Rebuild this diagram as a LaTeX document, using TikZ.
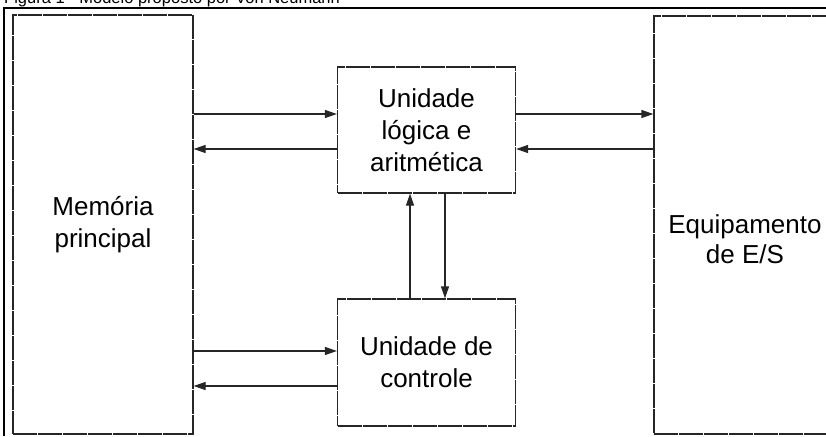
\documentclass[tikz,border=0pt]{standalone}
\usepackage{fontspec}
\setmainfont{Liberation Sans}
\usetikzlibrary{arrows.meta}

\begin{document}
\begin{tikzpicture}[x=1pt, y=-1pt,
    unit/.style = {draw=black!85, line width=1.3pt, dash pattern=on 24pt off 1pt, align=center, inner sep=0pt,
                   font=\fontsize{26}{32}\selectfont},
    arr/.style = {-{Triangle[length=12pt,width=8pt]}, line width=1.3pt, draw=black!85}]
    \useasboundingbox (0,0) rectangle (826,436);
    \clip (0,0) rectangle (826,436);
    \node[anchor=base west, inner sep=0pt, font=\fontsize{16.5}{20}\selectfont] (cap) at (4,3.5) {Figura 1 - Modelo proposto por Von Neumann};
    \draw[line width=2.5pt] (4,436) -- (4,8) -- (826,8);
    \node[unit, minimum width=180pt, minimum height=419pt] (mem) at (103,224.5) {Memória\\principal};
    \node[unit, minimum width=178pt, minimum height=126pt] (alu) at (426.5,130) {Unidade\\lógica e\\aritmética};
    \node[unit, minimum width=178pt, minimum height=127pt] (ctl) at (426.5,362.5) {Unidade de\\controle};
    \node[unit, minimum width=182pt, minimum height=418pt] (es) at (745,225) {};
    \node[align=center, inner sep=0pt, font=\fontsize{26}{30}\selectfont] (estxt) at ([yshift=-14pt]es.center) {Equipamento\\de E/S};
    \draw[arr] ([yshift=16pt]alu.west -| mem.east) -- ([yshift=16pt]alu.west);
    \draw[arr] ([yshift=-19pt]alu.west) -- ([yshift=-19pt]alu.west -| mem.east);
    \draw[arr] ([yshift=16pt]alu.east) -- ([yshift=16pt]alu.east -| es.west);
    \draw[arr] ([yshift=-19pt]alu.east -| es.west) -- ([yshift=-19pt]alu.east);
    \draw[arr] ([yshift=11.5pt]ctl.west -| mem.east) -- ([yshift=11.5pt]ctl.west);
    \draw[arr] ([yshift=-23.5pt]ctl.west) -- ([yshift=-23.5pt]ctl.west -| mem.east);
    \draw[arr] ([xshift=-16.5pt]ctl.north) -- ([xshift=-16.5pt]ctl.north |- alu.south);
    \draw[arr] ([xshift=18.5pt]alu.south) -- ([xshift=18.5pt]alu.south |- ctl.north);
\end{tikzpicture}
\end{document}
